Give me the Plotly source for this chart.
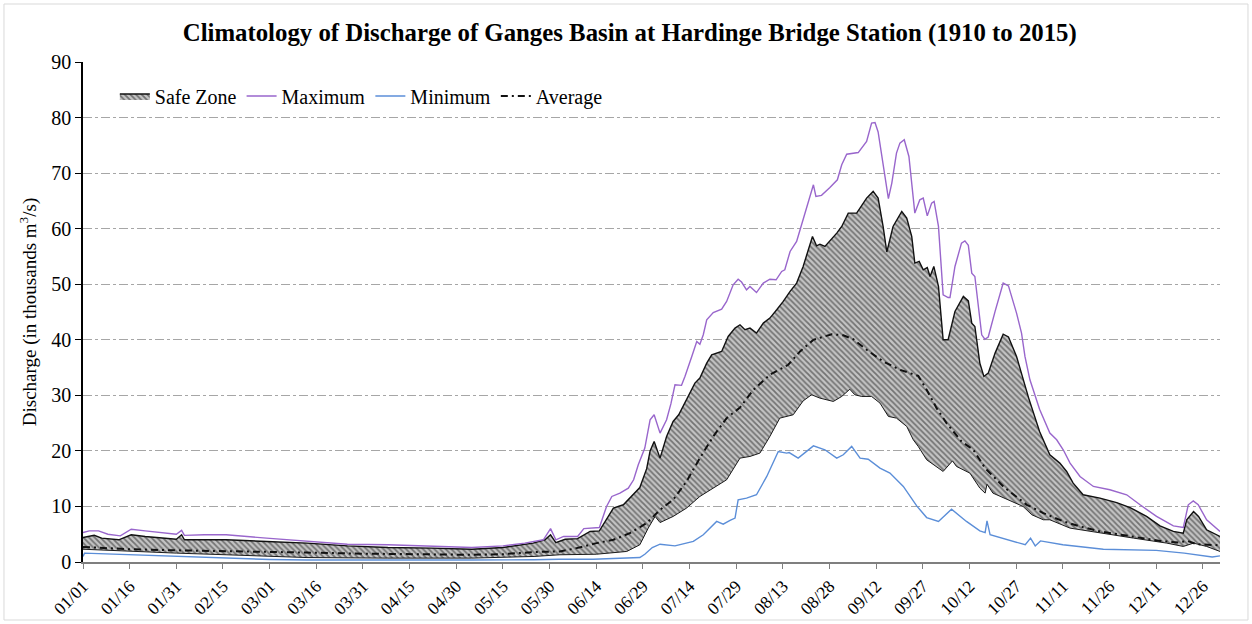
import plotly.graph_objects as go

# ---------------- data (day index from 01/01 of a leap year, discharge in thousand m3/s) -------------
tick_days = [0, 15, 30, 45, 60, 75, 90, 105, 120, 135, 150, 165, 180, 195, 210, 225,
             240, 255, 270, 285, 300, 315, 330, 345, 360]
tick_labels = ["01/01", "01/16", "01/31", "02/15", "03/01", "03/16", "03/31", "04/15", "04/30",
               "05/15", "05/30", "06/14", "06/29", "07/14", "07/29", "08/13", "08/28", "09/12",
               "09/27", "10/12", "10/27", "11/11", "11/26", "12/11", "12/26"]

max_days = [0, 2, 5, 8, 12, 15.5, 20, 30, 31.7, 32.6, 39, 46, 59, 72, 85, 98, 112, 125, 135, 142,
            148, 150.3, 152, 154.5, 159, 161, 166, 168.3, 170, 172.6, 175.3, 177, 178.5, 180.6,
            182.3, 183.6, 185.5, 187.6, 189, 190.3, 192.4, 193.5, 195.7, 197.3, 198.3, 199.4,
            200.5, 202.6, 205.3, 206.9, 209, 210.6, 211.7, 213.3, 214.4, 216.5, 218.7, 220.8,
            222.8, 224.6, 225.6, 227.3, 229.4, 231.5, 232.6, 234.8, 235.6, 237.4, 240.1, 242.5,
            243.9, 245.5, 249.2, 251.9, 253.5, 254.6, 255.6, 257.2, 258.9, 260, 261.5, 262.6,
            264, 265.5, 267.4, 269, 270.1, 271.4, 272.8, 273.6, 275, 276.5, 278.1, 278.7, 280.3,
            282.4, 283.5, 284.6, 285.7, 286.7, 288.9, 289.9, 291, 293.2, 295.8, 297.5, 300.1,
            301.7, 302.8, 304.4, 307.5, 310.8, 313, 315.1, 317.3, 320.5, 324.8, 330.1, 335.5,
            339.8, 345.1, 350.5, 353.7, 355.3, 356.9, 358.5, 361.2, 365.5]
max_vals = [5.3, 5.6, 5.6, 5.0, 4.7, 5.9, 5.6, 5.0, 5.7, 4.8, 4.9, 4.9, 4.3, 3.8, 3.2, 3.1, 2.9,
            2.6, 2.9, 3.4, 4.0, 6.0, 4.0, 4.6, 4.6, 6.0, 6.2, 10.0, 11.8, 12.4, 13.3, 14.8, 17.5,
            20.5, 25.6, 26.5, 23.2, 25.6, 28.5, 31.9, 31.8, 33.4, 37.0, 39.7, 39.2, 40.9, 43.6,
            44.9, 45.5, 46.9, 49.9, 50.9, 50.4, 49.0, 49.6, 48.5, 50.2, 50.9, 50.8, 52.3, 52.6,
            55.9, 57.7, 61.6, 63.4, 67.9, 65.8, 66.0, 67.4, 68.8, 71.5, 73.4, 73.7, 75.7, 79.0,
            79.1, 77.4, 71.2, 65.4, 68.2, 73.6, 75.4, 76.0, 73.0, 62.8, 65.2, 65.5, 62.3, 64.6,
            64.9, 60.4, 48.1, 47.6, 47.6, 53.2, 57.4, 57.8, 57.0, 52.0, 51.4, 40.9, 40.1, 40.5,
            45.1, 50.2, 49.7, 44.8, 41.2, 37.0, 32.8, 27.5, 23.2, 22.0, 20.2, 17.8, 15.4, 13.6,
            13.0, 12.1, 10.3, 8.2, 6.5, 6.2, 10.3, 11.0, 10.3, 7.6, 5.5]

upper_days = [0, 3.6, 6, 11.5, 15.5, 20, 30, 31.7, 32.6, 46, 59, 72, 85, 98, 112, 125, 135, 144.7,
              148.5, 150.3, 152, 155, 159, 163, 166, 168.9, 170.5, 173.7, 176.4, 179, 181.2, 182.3,
              183.6, 185.5, 187.6, 189.7, 191.5, 194, 196.7, 198.3, 200.5, 202.1, 205.3, 207.4,
              209.6, 211.2, 212.8, 214.4, 216.5, 218.7, 220.8, 223, 225.1, 227.3, 229.4, 231.5,
              233.1, 234.5, 235.8, 236.9, 238.5, 240.1, 242.3, 243.9, 246, 248.7, 251.9, 254,
              255.6, 257.2, 258.4, 260.4, 263.2, 264.8, 266.4, 267.4, 268.8, 270.1, 271.4, 272.3,
              273.5, 275, 276.5, 278.1, 280.3, 283, 284.6, 285.7, 286.7, 288.3, 289.6, 291, 293.2,
              295.8, 297.5, 300.1, 301.7, 304, 307.5, 310.8, 314, 316.2, 318.3, 321.5, 326.9,
              332.3, 336.6, 341.9, 346.2, 350.5, 353.7, 354.8, 357, 358.6, 361.2, 365.5]
upper_vals = [4.4, 4.8, 4.3, 4.0, 4.9, 4.6, 4.1, 4.9, 4.0, 4.0, 3.7, 3.4, 2.9, 2.6, 2.5, 2.3, 2.6,
              3.4, 4.0, 4.9, 3.5, 4.1, 4.2, 5.5, 5.6, 8.2, 9.7, 10.3, 11.8, 13.4, 16.8, 20.0, 21.7,
              18.7, 22.6, 25.3, 26.5, 29.2, 32.2, 33.1, 35.8, 37.3, 37.9, 40.6, 42.1, 42.7, 41.8,
              42.1, 41.2, 43.0, 43.9, 45.4, 46.9, 48.7, 50.2, 53.2, 56.2, 58.6, 56.9, 57.2, 56.8,
              57.8, 59.2, 60.4, 62.8, 62.8, 65.5, 66.7, 65.5, 60.4, 55.8, 60.4, 63.1, 61.9, 58.6,
              53.8, 54.1, 52.6, 53.0, 51.4, 53.2, 49.6, 40.0, 40.0, 45.1, 47.8, 47.0, 43.0, 42.4,
              35.8, 33.4, 34.0, 37.6, 41.0, 40.5, 37.0, 34.0, 29.5, 23.5, 19.3, 17.8, 16.3, 14.2,
              12.1, 11.5, 10.7, 9.8, 8.2, 6.5, 5.5, 5.2, 7.6, 9.1, 8.2, 5.8, 4.6]

avg_days = [0, 15, 30, 45, 60, 72, 90, 110, 125, 135, 145, 153.3, 158.7, 165.1, 170.5, 175.8,
            181.2, 185.5, 189.7, 194, 198.3, 202.6, 206.9, 211.2, 215.5, 220.8, 226.7, 230.5,
            234.8, 240.7, 244.4, 247.6, 251.9, 257.2, 262.6, 268.5, 271.2, 274.4, 277.6, 282.4,
            286.2, 290, 296, 303.4, 308.7, 315.2, 320.5, 326.9, 333.3, 339.8, 346.2, 352.1, 355,
            358, 365.5]
avg_vals = [2.7, 2.3, 2.1, 2.0, 1.8, 1.7, 1.5, 1.4, 1.3, 1.4, 1.8, 1.9, 2.5, 3.4, 4.0, 5.2, 7.0,
            9.4, 11.2, 14.5, 18.7, 22.6, 25.9, 27.8, 31.0, 33.7, 35.5, 37.9, 40.0, 41.0, 40.8,
            40.1, 38.2, 36.1, 34.6, 33.5, 31.0, 27.7, 25.0, 21.7, 20.2, 16.9, 13.5, 10.3, 8.8,
            7.3, 6.4, 5.5, 4.9, 4.3, 3.8, 3.5, 3.8, 3.2, 3.0]

lower_days = [0, 15, 30, 46, 60, 72, 98, 125, 145, 153.3, 165, 174.8, 179, 181.7, 183.9, 185.5,
              189.7, 194, 198.3, 202.6, 206.9, 211.2, 214.4, 217.6, 220.8, 224, 228.3, 231.5,
              234.2, 236.9, 241.2, 243.9, 246.5, 248.1, 250.3, 253.5, 256.2, 258.9, 261.5, 264.8,
              266.9, 268.5, 271.2, 276.5, 279.5, 280.8, 285.1, 288.3, 290, 290.6, 292.5, 302.2,
              305, 308.7, 310.8, 317.3, 326.9, 337.7, 348.4, 353.7, 357, 361.2, 365.5]
lower_vals = [2.3, 1.9, 1.6, 1.3, 1.0, 0.8, 0.7, 0.7, 1.0, 1.3, 1.4, 1.9, 3.1, 6.1, 8.2, 7.1, 8.2,
              9.7, 11.8, 13.3, 14.8, 18.7, 19.0, 19.6, 22.6, 25.9, 26.5, 29.0, 30.1, 29.5, 28.9,
              29.8, 31.1, 30.1, 29.8, 29.8, 28.6, 26.2, 25.9, 24.4, 22.0, 20.8, 18.4, 16.3, 18.2,
              17.2, 16.0, 13.3, 12.4, 14.0, 12.4, 10.0, 8.5, 7.6, 7.6, 6.1, 5.2, 4.3, 3.4, 2.8,
              3.4, 2.8, 1.9]

min_days = [0, 0.5, 5, 15, 30, 45, 60, 72, 100, 125, 145, 153, 164, 179, 180.6, 183, 185.5,
            190.3, 196.2, 199.4, 203.7, 205.8, 208, 209.6, 210.6, 213.3, 216.5, 219.8, 223.5,
            226.2, 227, 229.9, 234.8, 238.5, 242.3, 244.4, 247.1, 249.8, 252.4, 256.2, 259.4,
            263.7, 268, 271.2, 275, 279.2, 284, 288.3, 290, 290.6, 291.6, 302.9, 304.6, 306.1,
            307.8, 315, 328, 341, 345, 354, 363, 365.5]
min_vals = [1.0, 1.6, 1.5, 1.3, 1.0, 0.7, 0.45, 0.35, 0.3, 0.35, 0.4, 0.5, 0.5, 0.8, 1.4, 2.6,
            3.2, 2.9, 3.7, 4.9, 7.3, 6.8, 7.5, 7.9, 11.2, 11.5, 12.1, 15.4, 19.9, 19.6, 19.7, 18.7,
            20.9, 20.2, 18.7, 19.3, 20.8, 18.7, 18.5, 16.9, 16.0, 13.6, 10.1, 8.0, 7.3, 9.5, 7.3,
            5.6, 5.3, 7.4, 4.9, 3.1, 4.3, 2.9, 3.8, 3.1, 2.3, 2.2, 2.1, 1.6, 0.9, 1.1]

# ---------------- figure -------------
SERIF = "Liberation Serif, Times New Roman, serif"
fig = go.Figure()

fig.add_trace(go.Scatter(x=lower_days, y=lower_vals, mode="lines",
                         line=dict(color="#1a1a1a", width=1), showlegend=False,
                         hoverinfo="skip"))
fig.add_trace(go.Scatter(x=upper_days, y=upper_vals, mode="lines", name="Safe Zone",
                         line=dict(color="#111111", width=1.4), fill="tonexty",
                         fillcolor="rgba(0,0,0,0)",
                         fillpattern=dict(shape="\\", fgcolor="#222222", bgcolor="#c4c4c4",
                                          size=4, solidity=0.45)))
fig.add_trace(go.Scatter(x=max_days, y=max_vals, mode="lines", name="Maximum",
                         line=dict(color="#9966cc", width=1.4)))
fig.add_trace(go.Scatter(x=min_days, y=min_vals, mode="lines", name="Minimum",
                         line=dict(color="#5b8ed8", width=1.4)))
fig.add_trace(go.Scatter(x=avg_days, y=avg_vals, mode="lines", name="Average",
                         line=dict(color="#111111", width=2, dash="7px,4px,2px,4px")))

fig.update_layout(
    width=1252, height=624,
    margin=dict(l=83, r=32, t=62, b=62, autoexpand=False),
    paper_bgcolor="white", plot_bgcolor="white",
    font=dict(family=SERIF, size=20, color="black"),
    title=dict(text="<b>Climatology of Discharge of Ganges Basin at Hardinge Bridge Station (1910 to 2015)</b>",
               x=0.503, xref="container", xanchor="center", y=0.949, yanchor="middle",
               font=dict(family=SERIF, size=24.8, color="black")),
    legend=dict(orientation="h", x=0.028, y=0.932, xanchor="left", yanchor="middle",
                traceorder="normal", bgcolor="rgba(0,0,0,0)",
                font=dict(family=SERIF, size=20), itemwidth=30),
    showlegend=True,
)

fig.update_xaxes(range=[0, 365.5], tickmode="array", tickvals=tick_days, ticktext=tick_labels,
                 tickangle=-45, tickfont=dict(family=SERIF, size=17.5), automargin=False,
                 showgrid=False, zeroline=False, showline=True, linecolor="#7f7f7f",
                 linewidth=2, ticks="outside", ticklen=5, tickcolor="#7f7f7f")
fig.update_yaxes(range=[0, 90], dtick=10, tick0=0, tickfont=dict(family=SERIF, size=20),
                 automargin=False,
                 showgrid=True, gridcolor="#a6a6a6", griddash="dashdot", gridwidth=1,
                 zeroline=False, showline=True, linecolor="black", linewidth=1.5,
                 ticks="outside", ticklen=6, tickcolor="black",
                 title=dict(text="Discharge (in thousands m<sup>3</sup>/s)",
                            font=dict(family=SERIF, size=19), standoff=10))

# light frame around the whole chart
fig.add_shape(type="rect", xref="paper", yref="paper",
              x0=-0.0695, x1=1.0246, y0=-0.116, y1=1.116,
              line=dict(color="#d9d9d9", width=1), fillcolor="rgba(0,0,0,0)", layer="below")

fig.write_html("out.html", config={"displayModeBar": False},
               post_script="document.body.style.margin='0';")
